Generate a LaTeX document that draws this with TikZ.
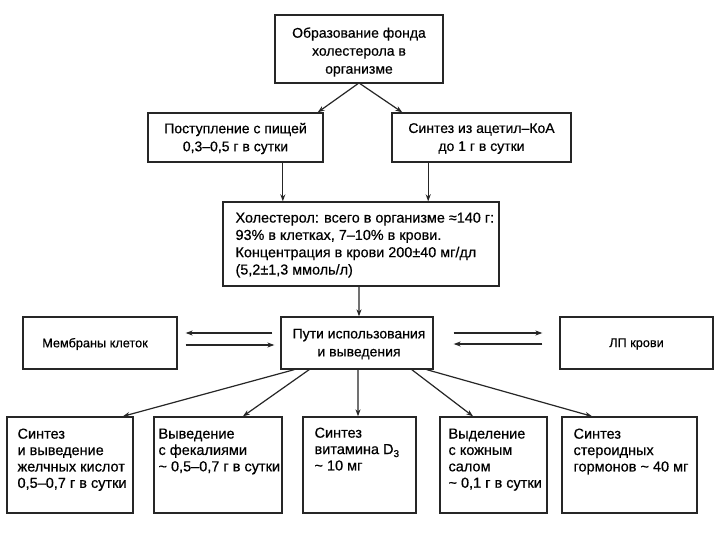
\documentclass[tikz,border=0pt]{standalone}
\usepackage{fontspec}
\setmainfont[FakeBold=0.5]{Liberation Sans}
\usetikzlibrary{arrows.meta,calc}
\newcommand{\subthree}{{\fontsize{10bp}{10bp}\selectfont\raisebox{-3bp}{3}}}
\begin{document}
\begin{tikzpicture}[x=1bp,y=-1bp,
  box/.style={draw=black!85,line width=1.3bp,rectangle,inner sep=0pt},
  ctext/.style={align=center,inner sep=0pt,font=\fontsize{14bp}{18bp}\selectfont},
  smtext/.style={font=\fontsize{12.7bp}{15bp}\selectfont},
  ltext/.style={align=left,inner sep=0pt,anchor=north west,font=\fontsize{14.4bp}{17.3bp}\selectfont},
  btext/.style={align=left,inner sep=0pt,anchor=north west,font=\fontsize{14.5bp}{16.4bp}\selectfont},
  arr/.style={draw=black!85,line width=1.2bp,-{Stealth[length=7bp,width=5bp]}}]
\useasboundingbox (0,0) rectangle (720,540);
\fill[white] (0,0) rectangle (720,540);
% top
\node[box,minimum width=168bp,minimum height=68bp] (top) at (359,49) {};
\node[ctext] (topt) at ([shift={(0,3)}]top.center) {Образование фонда\\холестерола в\\организме};
\node[box,minimum width=175bp,minimum height=49bp] (food) at (235.5,137.5) {};
\node[ctext] (foodt) at ([shift={(0,1)}]food.center) {Поступление с пищей\\0,3–0,5 г в сутки};
\node[box,minimum width=179bp,minimum height=49bp] (synth) at (481.5,137.5) {};
\node[ctext] (syntht) at ([shift={(0,1)}]synth.center) {Синтез из ацетил–КоА\\до 1 г в сутки};
\node[box,minimum width=276bp,minimum height=84bp] (chol) at (361,244) {};
\node[ltext] (cholt) at ([shift={(13,11)}]chol.north west)
  {Холестерол: всего в организме ≈140 г:\\93\% в клетках, 7–10\% в крови.\\Концентрация в крови 200±40 мг/дл\\(5,2±1,3 ммоль/л)};
\node[box,minimum width=152bp,minimum height=52bp] (mid) at (357,343) {};
\node[ctext] (midt) at ([shift={(2,1)}]mid.center) {Пути использования\\и выведения};
\node[box,minimum width=154bp,minimum height=52bp] (mem) at (100,343) {};
\node[smtext] (memt) at ([shift={(-5,1)}]mem.center) {Мембраны клеток};
\node[box,minimum width=153bp,minimum height=52bp] (lp) at (636.5,343) {};
\node[smtext] (lpt) at ([shift={(0,1)}]lp.center) {ЛП крови};
% bottom boxes
\node[box,minimum width=126bp,minimum height=96bp] (b1) at (70,465) {};
\node[box,minimum width=128bp,minimum height=96bp] (b2) at (218,465) {};
\node[box,minimum width=113bp,minimum height=96bp] (b3) at (359.5,465) {};
\node[box,minimum width=107bp,minimum height=96bp] (b4) at (493.5,465) {};
\node[box,minimum width=135bp,minimum height=96bp] (b5) at (629.5,465) {};
\node[btext] (b1t) at ([shift={(11,12)}]b1.north west) {Синтез\\и выведение\\желчных кислот\\0,5–0,7 г в сутки};
\node[btext] (b2t) at ([shift={(5,12)}]b2.north west) {Выведение\\с фекалиями\\\textasciitilde{} 0,5–0,7 г в сутки};
\node[btext] (b3t) at ([shift={(12,11)}]b3.north west) {Синтез\\витамина D\subthree\\\textasciitilde{} 10 мг};
\node[btext] (b4t) at ([shift={(9,12)}]b4.north west) {Выделение\\с кожным\\салом\\\textasciitilde{} 0,1 г в сутки};
\node[btext] (b5t) at ([shift={(12,12)}]b5.north west) {Синтез\\стероидных\\гормонов \textasciitilde{} 40 мг};
% arrows top
\draw[arr] ([xshift=-1]top.south) -- ([xshift=82.5]food.north);
\draw[arr] ([xshift=1]top.south) -- ([xshift=-79.5]synth.north);
\draw[arr] ([xshift=47.5]food.south) -- ([xshift=47.5]food.south |- chol.north);
\draw[arr] ([xshift=-53.5]synth.south) -- ([xshift=-53.5]synth.south |- chol.north);
\draw[arr] ([xshift=-2]chol.south) -- ([xshift=2]mid.north);
% side arrows
\draw[arr] ($(mid.west)+(-8,-10)$) -- ($(mem.east)+(8,-10)$);
\draw[arr] ($(mem.east)+(8,2)$) -- ($(mid.west)+(-6,2)$);
\draw[arr] ($(mid.east)+(20,-10)$) -- ($(lp.west)+(-17,-10)$);
\draw[arr] ($(lp.west)+(-17,1)$) -- ($(mid.east)+(20,1)$);
% fan
\draw[arr] ([xshift=-63]mid.south) -- ([xshift=53]b1.north);
\draw[arr] ([xshift=-48]mid.south) -- ([xshift=25]b2.north);
\draw[arr] ([xshift=1]mid.south) -- ([xshift=-1.5]b3.north);
\draw[arr] ([xshift=55]mid.south) -- ([xshift=-20.5]b4.north);
\draw[arr] ([xshift=70]mid.south) -- ([xshift=-37.5]b5.north);
\end{tikzpicture}
\end{document}
